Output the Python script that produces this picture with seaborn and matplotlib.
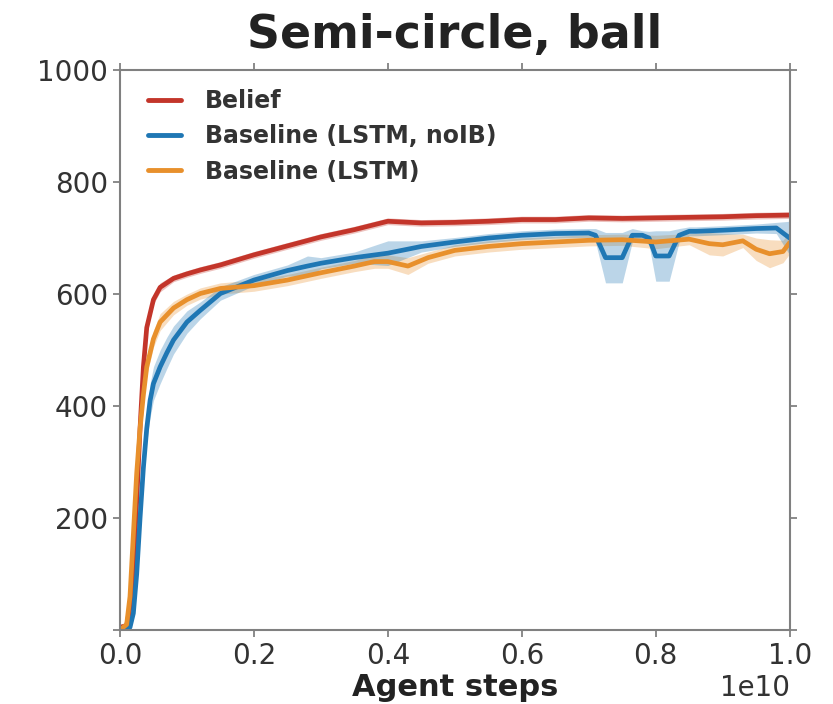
import numpy as np
import pandas as pd
import matplotlib
matplotlib.use("Agg")
import matplotlib.pyplot as plt
import seaborn as sns

# ---------------- data (x in units of 1e10 agent steps) ----------------
belief_x = [0, 0.01, 0.015, 0.02, 0.025, 0.03, 0.035, 0.04, 0.05, 0.06, 0.08, 0.1, 0.12,
            0.15, 0.2, 0.25, 0.3, 0.35, 0.4, 0.45, 0.5, 0.55, 0.6, 0.65, 0.7, 0.75, 0.8,
            0.85, 0.9, 0.95, 1.0]
belief_y = [5, 8, 40, 110, 230, 360, 470, 540, 590, 612, 628, 636, 643, 652, 670, 686, 702,
            715, 730, 727, 728, 730, 733, 733, 736, 735, 736, 737, 738, 740, 741]
belief_err = [3, 4, 8, 10, 10, 10, 10, 10, 8, 8, 6, 6, 6, 6, 6, 6, 6, 6, 6, 6, 6, 6, 6, 6,
              6, 6, 6, 6, 6, 6, 6]

blstm_noib_x = [0, 0.015, 0.02, 0.025, 0.03, 0.035, 0.04, 0.045, 0.05, 0.06, 0.07, 0.08, 0.1,
                0.12, 0.15, 0.2, 0.25, 0.28, 0.3, 0.35, 0.4, 0.45, 0.5, 0.55, 0.6, 0.65, 0.7,
                0.71, 0.725, 0.75, 0.765, 0.78, 0.79, 0.8, 0.82, 0.835, 0.85, 0.86, 0.9, 0.95,
                0.98, 1.0]
blstm_noib_y = [0, 5, 30, 100, 200, 290, 360, 410, 440, 470, 495, 518, 550, 571, 601, 625, 642,
                650, 655, 665, 673, 685, 693, 700, 705, 708, 709, 705, 665, 665, 705, 705, 700,
                668, 668, 705, 712, 712, 714, 717, 718, 700]
blstm_noib_err = [3, 5, 10, 15, 20, 25, 25, 30, 30, 30, 28, 25, 20, 15, 12, 10, 10, 18, 10, 10,
                  22, 10, 8, 8, 8, 8, 8, 12, 45, 45, 12, 8, 12, 45, 45, 12, 8, 8, 8, 8, 10, 30]

blstm_x = [0, 0.01, 0.015, 0.02, 0.025, 0.03, 0.035, 0.04, 0.05, 0.06, 0.08, 0.1, 0.12, 0.15,
           0.2, 0.25, 0.3, 0.35, 0.38, 0.4, 0.43, 0.46, 0.5, 0.55, 0.6, 0.65, 0.7, 0.75, 0.8,
           0.85, 0.88, 0.9, 0.93, 0.95, 0.97, 0.99, 1.0]
blstm_y = [0, 10, 60, 170, 280, 360, 420, 470, 520, 550, 575, 590, 601, 610, 615, 625, 638, 650,
           658, 658, 650, 665, 678, 685, 690, 693, 696, 697, 693, 698, 690, 688, 695, 680, 672,
           676, 692]
blstm_err = [3, 6, 10, 12, 14, 15, 15, 15, 15, 15, 12, 10, 10, 10, 10, 10, 10, 10, 12, 12, 15,
             10, 10, 10, 10, 10, 10, 10, 12, 10, 20, 20, 12, 20, 25, 20, 20]

series_names = ["Belief", "Baseline (LSTM, noIB)", "Baseline (LSTM)"]
colors = ["#c3352a", "#1f77b4", "#e8902c"]

series = [
    (belief_x, belief_y, belief_err),
    (blstm_noib_x, blstm_noib_y, blstm_noib_err),
    (blstm_x, blstm_y, blstm_err),
]

frames = []
for name, (xs, ys, es) in zip(series_names, series):
    frames.append(pd.DataFrame({"steps": np.array(xs) * 1e10, "reward": ys,
                                "err": es, "series": name}))
df = pd.concat(frames, ignore_index=True)

# ---------------- plot ----------------
sns.set_theme(style="white")
plt.rcParams["font.family"] = ["DejaVu Sans"]

fig = plt.figure(figsize=(8.33, 7.04), dpi=100)
ax = fig.add_axes([0.144, 0.105, 0.804, 0.7955])

palette = dict(zip(series_names, colors))
for name in series_names[::-1]:
    sub = df[df["series"] == name]
    ax.fill_between(sub["steps"], sub["reward"] - sub["err"], sub["reward"] + sub["err"],
                    color=palette[name], alpha=0.3, linewidth=0)

sns.lineplot(data=df, x="steps", y="reward", hue="series", hue_order=series_names,
             palette=palette, linewidth=3.4, ax=ax, legend=True)

ax.set_xlim(0, 1e10)
ax.set_ylim(0, 1000)
ax.set_xticks(np.arange(0, 1.01e10, 0.2e10))
ax.set_yticks([0, 200, 400, 600, 800, 1000])
ax.set_yticklabels(["", "200", "400", "600", "800", "1000"])
ax.ticklabel_format(axis="x", style="sci", scilimits=(0, 0))
ax.xaxis.get_offset_text().set_fontsize(20)
ax.xaxis.get_offset_text().set_color("#333333")

ax.tick_params(axis="both", which="major", direction="out", length=5, width=1.2,
               colors="#777777", labelsize=20, labelcolor="#333333",
               top=True, right=True, bottom=True, left=True)

for sp in ax.spines.values():
    sp.set_visible(True)
    sp.set_color("#808080")
    sp.set_linewidth(1.5)

ax.set_title("Semi-circle, ball", fontsize=33, fontweight="bold", color="#222222", pad=16)
ax.set_xlabel("Agent steps", fontsize=22, fontweight="bold", color="#222222", labelpad=2)
ax.set_ylabel("")

leg = ax.legend(loc="upper left", bbox_to_anchor=(0.014, 1.0), frameon=False,
                prop={"weight": "bold", "size": 17},
                handlelength=1.4, handletextpad=1.0, borderaxespad=0.5, labelspacing=0.48,
                borderpad=0.3)
for t in leg.get_texts():
    t.set_color("#333333")
for h in leg.get_lines():
    h.set_linewidth(3.5)

fig.savefig("out.png", dpi=100)
